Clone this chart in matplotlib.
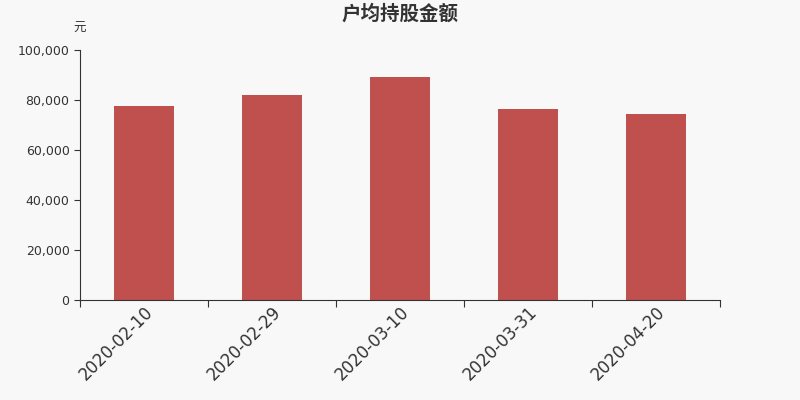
import matplotlib
matplotlib.use('Agg')
import matplotlib.pyplot as plt
from matplotlib.ticker import FuncFormatter

plt.rcParams['font.family'] = ['DejaVu Sans', 'Noto Sans CJK SC']

dates = ['2020-02-10', '2020-02-29', '2020-03-10', '2020-03-31', '2020-04-20']
values = [77500, 82000, 89400, 76400, 74400]

bg = '#f8f8f8'
fig = plt.figure(figsize=(8, 4), dpi=100, facecolor=bg)
ax = fig.add_axes([0.1, 0.25, 0.8, 0.625], facecolor=bg)

x = list(range(len(dates)))
ax.bar(x, values, width=0.47, color='#c0504d', zorder=2)

ax.set_xlim(-0.5, len(dates) - 0.5)
ax.set_ylim(0, 100000)
ax.set_yticks([0, 20000, 40000, 60000, 80000, 100000])
ax.yaxis.set_major_formatter(FuncFormatter(lambda v, p: '{:,.0f}'.format(v)))

# category ticks sit between bars
ax.set_xticks([i - 0.5 for i in range(len(dates) + 1)], minor=False)
ax.set_xticklabels([])
ax.set_xticks(x, minor=True)
ax.set_xticklabels(dates, minor=True, rotation=45, ha='right', rotation_mode='anchor',
                   fontsize=12, color='#333333')
ax.tick_params(axis='x', which='minor', length=0, pad=2)
ax.tick_params(axis='x', which='major', length=5, color='#333333')
ax.tick_params(axis='y', length=4, labelsize=9, labelcolor='#333333', color='#333333')

for s in ['top', 'right']:
    ax.spines[s].set_visible(False)
ax.spines['left'].set_color('#333333')
ax.spines['bottom'].set_color('#333333')

fig.text(0.5, 0.965, '户均持股金额', ha='center', va='center', fontsize=14,
         fontweight='bold', color='#333333', family=['Noto Sans CJK SC', 'DejaVu Sans'])
fig.text(0.099, 0.93, '元', ha='center', va='center', fontsize=9, color='#333333',
         family=['Noto Sans CJK SC', 'DejaVu Sans'])

fig.savefig('out.png', dpi=100, facecolor=bg)
